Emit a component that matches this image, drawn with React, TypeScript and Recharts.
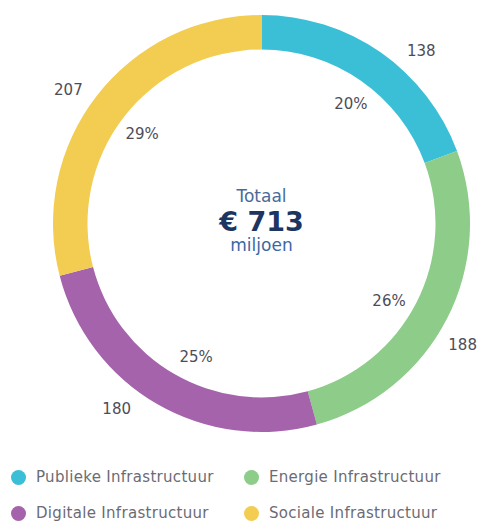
import { PieChart, Pie, Cell } from "recharts";

const categories = ["Publieke Infrastructuur", "Energie Infrastructuur", "Digitale Infrastructuur", "Sociale Infrastructuur"];
const amounts = [138, 188, 180, 207];
const percentLabels = ["20%", "26%", "25%", "29%"];
const colors = ["#3abfd6", "#8dcc89", "#a463aa", "#f2cd51"];

// small angular nudges (degrees, clockwise) so labels sit where the original put them
const outerNudge = [8, 4, 8, -3];
const innerNudge = [2, 4, -4, -1];

const data = categories.map((name, i) => ({ name, value: amounts[i], pct: percentLabels[i] }));

const FONT = "'DejaVu Sans', sans-serif";
const RADIAN = Math.PI / 180;

function renderLabel(props: any) {
  const { cx, cy, midAngle, index } = props;
  const pos = (r: number, nudge: number) => {
    const a = (midAngle - nudge) * RADIAN;
    return { x: cx + r * Math.cos(-a), y: cy + r * Math.sin(-a) };
  };
  const o = pos(235, outerNudge[index]);
  const n = pos(149, innerNudge[index]);
  return (
    <g>
      <text x={o.x} y={o.y} textAnchor="middle" dominantBaseline="central" fill="#4d4d57" fontSize={15} fontFamily={FONT}>
        {amounts[index]}
      </text>
      <text x={n.x} y={n.y} textAnchor="middle" dominantBaseline="central" fill="#4d4d57" fontSize={15} fontFamily={FONT}>
        {percentLabels[index]}
      </text>
    </g>
  );
}

export default function App() {
  return (
    <div style={{ position: "absolute", left: 0, top: 0, width: 484, height: 523, background: "#fff", fontFamily: FONT }}>
      <PieChart width={484} height={450} margin={{ top: 0, right: 0, bottom: 0, left: 0 }}>
        <Pie
          data={data}
          dataKey="value"
          nameKey="name"
          cx={261.5}
          cy={223.5}
          innerRadius={174}
          outerRadius={208.5}
          startAngle={90}
          endAngle={-270}
          stroke="none"
          label={renderLabel}
          labelLine={false}
          isAnimationActive={false}
        >
          {data.map((d, i) => (
            <Cell key={d.name} fill={colors[i]} />
          ))}
        </Pie>
        <text x={261.5} y={196} textAnchor="middle" dominantBaseline="central" fill="#4a6b98" fontSize={17} fontFamily={FONT}>Totaal</text>
        <text x={261.5} y={221} textAnchor="middle" dominantBaseline="central" fill="#1c3561" fontSize={27} fontWeight="bold" fontFamily={FONT}>€ 713</text>
        <text x={261.5} y={245} textAnchor="middle" dominantBaseline="central" fill="#3b68a3" fontSize={17} fontFamily={FONT}>miljoen</text>
      </PieChart>
      {categories.map((c, i) => (
        <div
          key={c}
          style={{
            position: "absolute",
            left: i % 2 === 0 ? 11 : 244,
            top: i < 2 ? 468 : 504,
            display: "flex",
            alignItems: "center",
            fontSize: 15,
            letterSpacing: 0.3,
            color: "#6b6b75",
          }}
        >
          <span style={{ width: 15, height: 15, borderRadius: "50%", background: colors[i], display: "inline-block", marginRight: 10 }} />
          {c}
        </div>
      ))}
    </div>
  );
}
